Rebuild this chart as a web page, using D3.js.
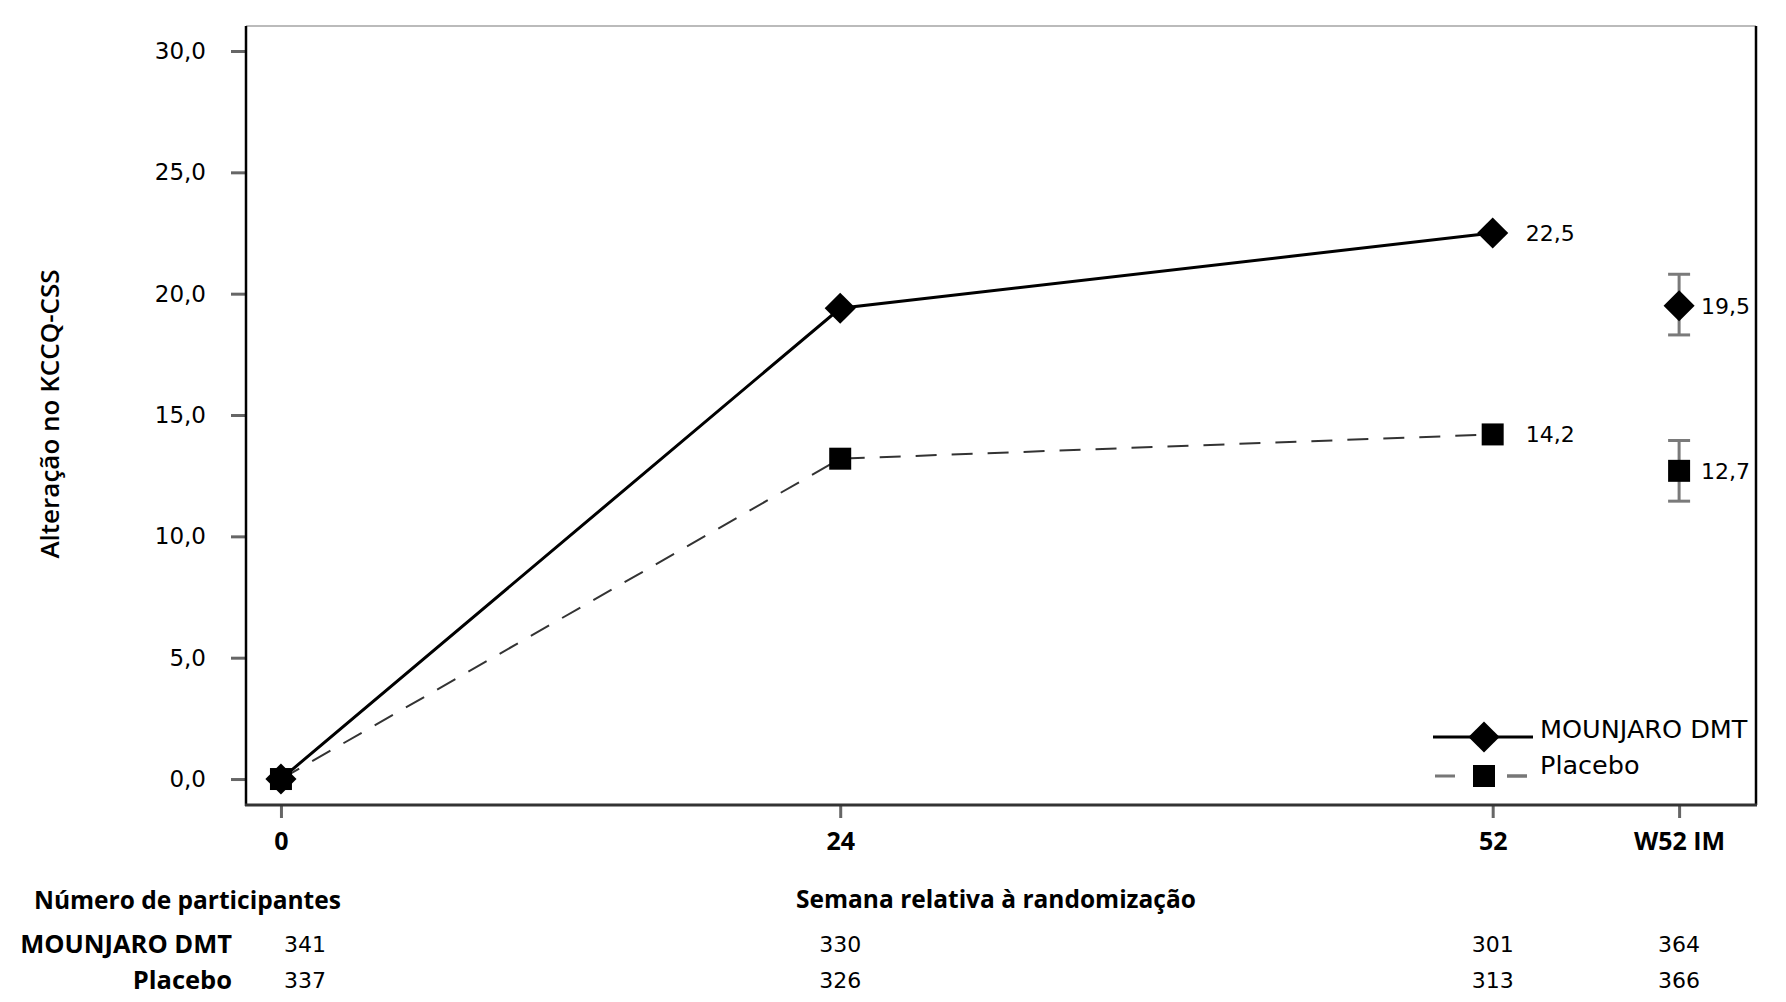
<html>

<head>
    <style>
        body { margin: 0; background: #fff; }
        text { fill: #000; }
    </style>
</head>

<body>
    <svg id="chart" width="1786" height="1002"></svg>
</body>
<script src="https://d3js.org/d3.v7.min.js"></script>
<script>
    // data
    let xLabels = ["0", "24", "52", "W52 IM"]
    let xPos = [0, 24, 52, 60]          // week units on the x axis (W52 IM drawn at 60)
    let lineWeeks = [0, 24, 52]
    let mounjaro = [0, 19.4, 22.5]
    let placebo = [0, 13.2, 14.2]
    let imMounjaro = { value: 19.5, low: 18.3, high: 20.8 }
    let imPlacebo = { value: 12.7, low: 11.45, high: 13.95 }
    let yTicks = [0, 5, 10, 15, 20, 25, 30]
    let nMounjaro = [341, 330, 301, 364]
    let nPlacebo = [337, 326, 313, 366]

    let regular = "'DejaVu Sans', sans-serif"
    let bold = "'Open Sans', sans-serif"
    let comma = d => d3.format(".1f")(d).replace(".", ",")

    let svg = d3.select("#chart")

    let x = d3.scaleLinear().domain([-1.5, 63.3]).range([246, 1756])
    let y = d3.scaleLinear().domain([-1.07, 31.03]).range([805, 26])

    // y axis
    let yAxis = d3.axisLeft(y)
        .tickValues(yTicks)
        .tickFormat(comma)
        .tickSize(15)
        .tickPadding(25)
    let gy = svg.append("g")
        .attr("transform", `translate(${x.range()[0]},0)`)
        .call(yAxis)
    gy.select(".domain").remove()
    gy.selectAll("line").attr("stroke", "#666").attr("stroke-width", 3)
    gy.selectAll("text")
        .style("font-family", regular)
        .style("font-size", "23px")
        .attr("fill", "#000")

    // x axis
    let xAxis = d3.axisBottom(x)
        .tickValues(xPos)
        .tickFormat((d, i) => xLabels[i])
        .tickSize(13)
    let gx = svg.append("g")
        .attr("transform", `translate(0,${y.range()[0]})`)
        .call(xAxis)
    gx.select(".domain").remove()
    gx.selectAll("line").attr("stroke", "#666").attr("stroke-width", 3)
    gx.selectAll("text")
        .attr("y", 36)
        .attr("dy", "0.35em")
        .style("font-family", bold)
        .style("font-weight", 700)
        .style("font-size", "25px")
        .attr("fill", "#000")

    // frame
    let [x0, x1] = x.range()
    let [yb, yt] = y.range()
    svg.append("line").attr("x1", x0).attr("x2", x1).attr("y1", yt).attr("y2", yt)
        .attr("stroke", "#bbb").attr("stroke-width", 2)
    svg.append("line").attr("x1", x1).attr("x2", x1).attr("y1", yt).attr("y2", yb)
        .attr("stroke", "#000").attr("stroke-width", 2.5)
    svg.append("line").attr("x1", x0).attr("x2", x0).attr("y1", yt).attr("y2", yb + 1)
        .attr("stroke", "#000").attr("stroke-width", 2.5)
    svg.append("line").attr("x1", x0 - 1).attr("x2", x1 + 1).attr("y1", yb).attr("y2", yb)
        .attr("stroke", "#333").attr("stroke-width", 3)

    // y title
    svg.append("text")
        .attr("transform", "translate(50,414) rotate(-90)")
        .attr("text-anchor", "middle")
        .attr("dy", "0.35em")
        .style("font-family", bold)
        .style("font-weight", 600)
        .style("font-size", "26px")
        .text("Alteração no KCCQ-CSS")

    // lines
    let line = d3.line()
        .x((d, i) => x(lineWeeks[i]))
        .y(d => y(d))

    svg.append("path")
        .datum(placebo)
        .attr("d", line)
        .attr("fill", "none")
        .attr("stroke", "#333")
        .attr("stroke-width", 2)
        .attr("stroke-dasharray", "21,15")

    svg.append("path")
        .datum(mounjaro)
        .attr("d", line)
        .attr("fill", "none")
        .attr("stroke", "#000")
        .attr("stroke-width", 3)

    // error bars for W52 IM
    let imX = x(xPos[3])
    let bars = svg.append("g")
    ;[imMounjaro, imPlacebo].forEach(e => {
        bars.append("line")
            .attr("x1", imX).attr("x2", imX)
            .attr("y1", y(e.low)).attr("y2", y(e.high))
            .attr("stroke", "#7a7a7a").attr("stroke-width", 3)
        ;[e.low, e.high].forEach(v => {
            bars.append("line")
                .attr("x1", imX - 11).attr("x2", imX + 11)
                .attr("y1", y(v)).attr("y2", y(v))
                .attr("stroke", "#7a7a7a").attr("stroke-width", 3)
        })
    })

    // markers
    let marker = d3.symbol().type(d3.symbolSquare).size(484)

    let squares = placebo.map((v, i) => [x(lineWeeks[i]), y(v)])
    squares.push([imX, y(imPlacebo.value)])
    svg.append("g").selectAll("path")
        .data(squares)
        .join("path")
        .attr("d", marker)
        .attr("transform", d => `translate(${d[0]},${d[1]})`)
        .attr("fill", "#000")

    let diamonds = mounjaro.map((v, i) => [x(lineWeeks[i]), y(v)])
    diamonds.push([imX, y(imMounjaro.value)])
    svg.append("g").selectAll("path")
        .data(diamonds)
        .join("path")
        .attr("d", marker)
        .attr("transform", d => `translate(${d[0]},${d[1]}) rotate(45)`)
        .attr("fill", "#000")

    // value labels
    let valueLabels = [
        [x(52) + 33, y(mounjaro[2]), mounjaro[2]],
        [x(52) + 33, y(placebo[2]), placebo[2]],
        [imX + 22, y(imMounjaro.value), imMounjaro.value],
        [imX + 22, y(imPlacebo.value), imPlacebo.value]
    ]
    svg.append("g").selectAll("text")
        .data(valueLabels)
        .join("text")
        .attr("x", d => d[0])
        .attr("y", d => d[1])
        .attr("dy", "0.35em")
        .style("font-family", regular)
        .style("font-size", "22px")
        .text(d => comma(d[2]))

    // legend
    let legend = svg.append("g")
    legend.append("line").attr("x1", 1433).attr("x2", 1533).attr("y1", 737).attr("y2", 737)
        .attr("stroke", "#000").attr("stroke-width", 3)
    legend.append("path").attr("d", marker).attr("transform", "translate(1484,737) rotate(45)")
    legend.append("line").attr("x1", 1435).attr("x2", 1527).attr("y1", 776).attr("y2", 776)
        .attr("stroke", "#777").attr("stroke-width", 3).attr("stroke-dasharray", "20,52")
    legend.append("line").attr("x1", 1507).attr("x2", 1527).attr("y1", 776).attr("y2", 776)
        .attr("stroke", "#777").attr("stroke-width", 3)
    legend.append("path").attr("d", marker).attr("transform", "translate(1484,776)")
    legend.selectAll("text.leg")
        .data(["MOUNJARO DMT", "Placebo"])
        .join("text")
        .attr("x", 1540)
        .attr("y", (d, i) => 729 + i * 36)
        .attr("dy", "0.35em")
        .style("font-family", regular)
        .style("font-size", "25.5px")
        .text(d => d)

    // x title and participants table
    svg.append("text")
        .attr("x", 996).attr("y", 899).attr("dy", "0.35em")
        .attr("text-anchor", "middle")
        .style("font-family", bold).style("font-weight", 700).style("font-size", "24.5px")
        .text("Semana relativa à randomização")

    svg.append("text")
        .attr("x", 34).attr("y", 900).attr("dy", "0.35em")
        .style("font-family", bold).style("font-weight", 700).style("font-size", "24.5px")
        .text("Número de participantes")

    let rows = [["MOUNJARO DMT", nMounjaro, 944], ["Placebo", nPlacebo, 980]]
    rows.forEach(r => {
        svg.append("text")
            .attr("x", 232).attr("y", r[2]).attr("dy", "0.35em")
            .attr("text-anchor", "end")
            .style("font-family", bold).style("font-weight", 700).style("font-size", "25.5px")
            .text(r[0])
        svg.append("g").selectAll("text")
            .data(r[1])
            .join("text")
            .attr("x", (d, i) => x(xPos[i]) + (i === 0 ? 24 : 0))
            .attr("y", r[2])
            .attr("dy", "0.35em")
            .attr("text-anchor", "middle")
            .style("font-family", regular)
            .style("font-size", "22px")
            .text(d => d)
    })
</script>

</html>
